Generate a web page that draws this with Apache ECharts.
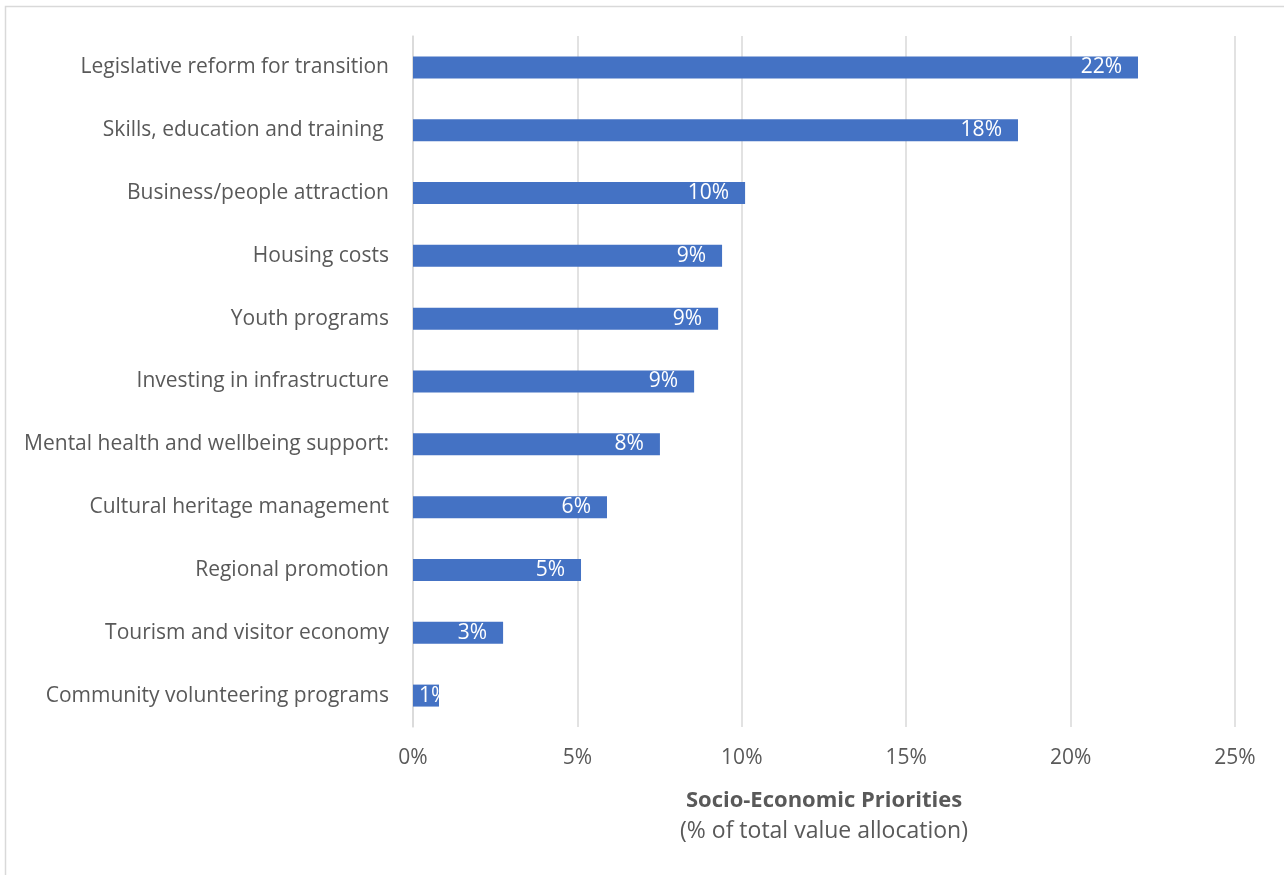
<!DOCTYPE html>
<html>
<head>
<meta charset="utf-8">
<script src="https://cdn.jsdelivr.net/npm/echarts@6/dist/echarts.min.js"></script>
<style>
html,body{margin:0;padding:0;background:#fff;}
#chart{width:1284px;height:875px;}
</style>
</head>
<body>
<div id="chart"></div>
<script>
const categories = [
  'Legislative reform for transition',
  'Skills, education and training ',
  'Business/people attraction',
  'Housing costs',
  'Youth programs',
  'Investing in infrastructure',
  'Mental health and wellbeing support:',
  'Cultural heritage management',
  'Regional promotion',
  'Tourism and visitor economy',
  'Community volunteering programs'
];
const values = [22.05, 18.4, 10.1, 9.4, 9.28, 8.55, 7.51, 5.9, 5.11, 2.74, 0.79];
const xTicks = [0, 5, 10, 15, 20, 25];
const axisTitle = 'Socio-Economic Priorities';
const axisSubtitle = '(% of total value allocation)';

const FONT = '"Open Sans", sans-serif';
const TXT = '#595959';
const chart = echarts.init(document.getElementById('chart'));
chart.setOption({
  animation: false,
  backgroundColor: '#fff',
  textStyle: { fontFamily: FONT },
  graphic: [{
    type: 'rect',
    shape: { x: 5.5, y: 6.5, width: 1400, height: 1000 },
    style: { fill: 'none', stroke: '#D9D9D9', lineWidth: 1.5 },
    silent: true
  }],
  grid: { left: 413, right: 49, top: 36, bottom: 148, containLabel: false },
  xAxis: {
    type: 'value',
    min: xTicks[0],
    max: xTicks[xTicks.length - 1],
    interval: xTicks[1] - xTicks[0],
    axisLine: { show: false },
    axisTick: { show: false },
    splitLine: { show: true, lineStyle: { color: '#D9D9D9', width: 1.5 } },
    axisLabel: { formatter: '{value}%', color: TXT, fontSize: 21, fontFamily: FONT, margin: 21 },
    name: '{b|' + axisTitle + '}\n{n|' + axisSubtitle + '}',
    nameLocation: 'middle',
    nameGap: 58,
    nameTextStyle: {
      rich: {
        b: { fontSize: 22, fontWeight: 'bold', color: TXT, fontFamily: FONT, lineHeight: 31 },
        n: { fontSize: 23, color: TXT, fontFamily: FONT, lineHeight: 31 }
      }
    }
  },
  yAxis: {
    type: 'category',
    inverse: true,
    data: categories,
    axisLine: { show: true, lineStyle: { color: '#D9D9D9', width: 1.5 } },
    axisTick: { show: false },
    axisLabel: { color: TXT, fontSize: 21, fontFamily: FONT, margin: 24, padding: [3, 0, 0, 0] }
  },
  series: [{
    type: 'bar',
    data: values.map((v, i) => {
      const item = { value: v };
      if (v < 2) item.label = { position: 'insideLeft', distance: 6 };
      return item;
    }),
    barWidth: '35%',
    itemStyle: { color: '#4472C4' },
    label: {
      show: true,
      position: 'insideRight',
      distance: 16,
      color: '#fff',
      fontSize: 21,
      fontFamily: FONT,
      padding: [3, 0, 0, 0],
      formatter: p => Math.round(p.value) + '%'
    }
  }]
});
</script>
</body>
</html>
